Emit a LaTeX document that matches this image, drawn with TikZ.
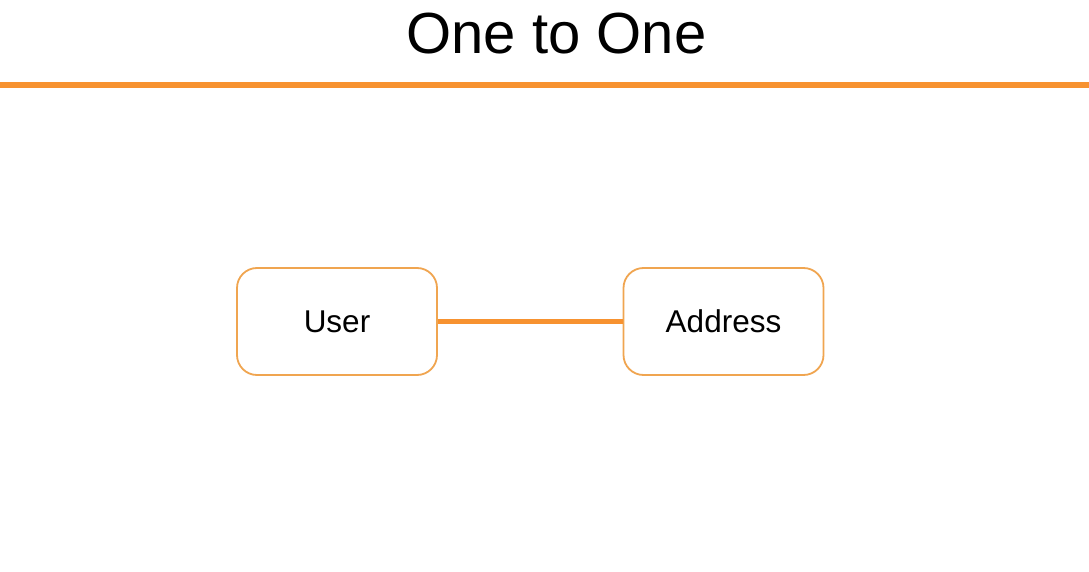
\documentclass[tikz,border=0pt]{standalone}
\usepackage{fontspec}
\setmainfont{Liberation Sans}
\definecolor{orng}{RGB}{247,146,48}
\definecolor{boxorng}{RGB}{240,165,80}
\begin{document}
\begin{tikzpicture}[x=1pt,y=-1pt,
  entity/.style={draw=boxorng,line width=1.8pt,rounded corners=20pt,minimum width=200pt,minimum height=107pt,font=\fontsize{31.5}{36}\selectfont,inner sep=0pt},
  rel/.style={draw=orng,line width=5.5pt}]
\useasboundingbox (0,0) rectangle (1089,572);
\fill[white] (0,0) rectangle (1089,572);
\node (title) at (556.5,34) {\fontsize{58}{66}\selectfont One to One};
\coordinate (hl) at (0,85);
\coordinate (hr) at (1089,85);
\draw[rel] (hl) -- (hr);
\node[entity] (user) at (337,321.5) {User};
\node[entity] (addr) at (723.5,321.5) {Address};
\draw[rel] (user.east) -- (addr.west);
\end{tikzpicture}
\end{document}
